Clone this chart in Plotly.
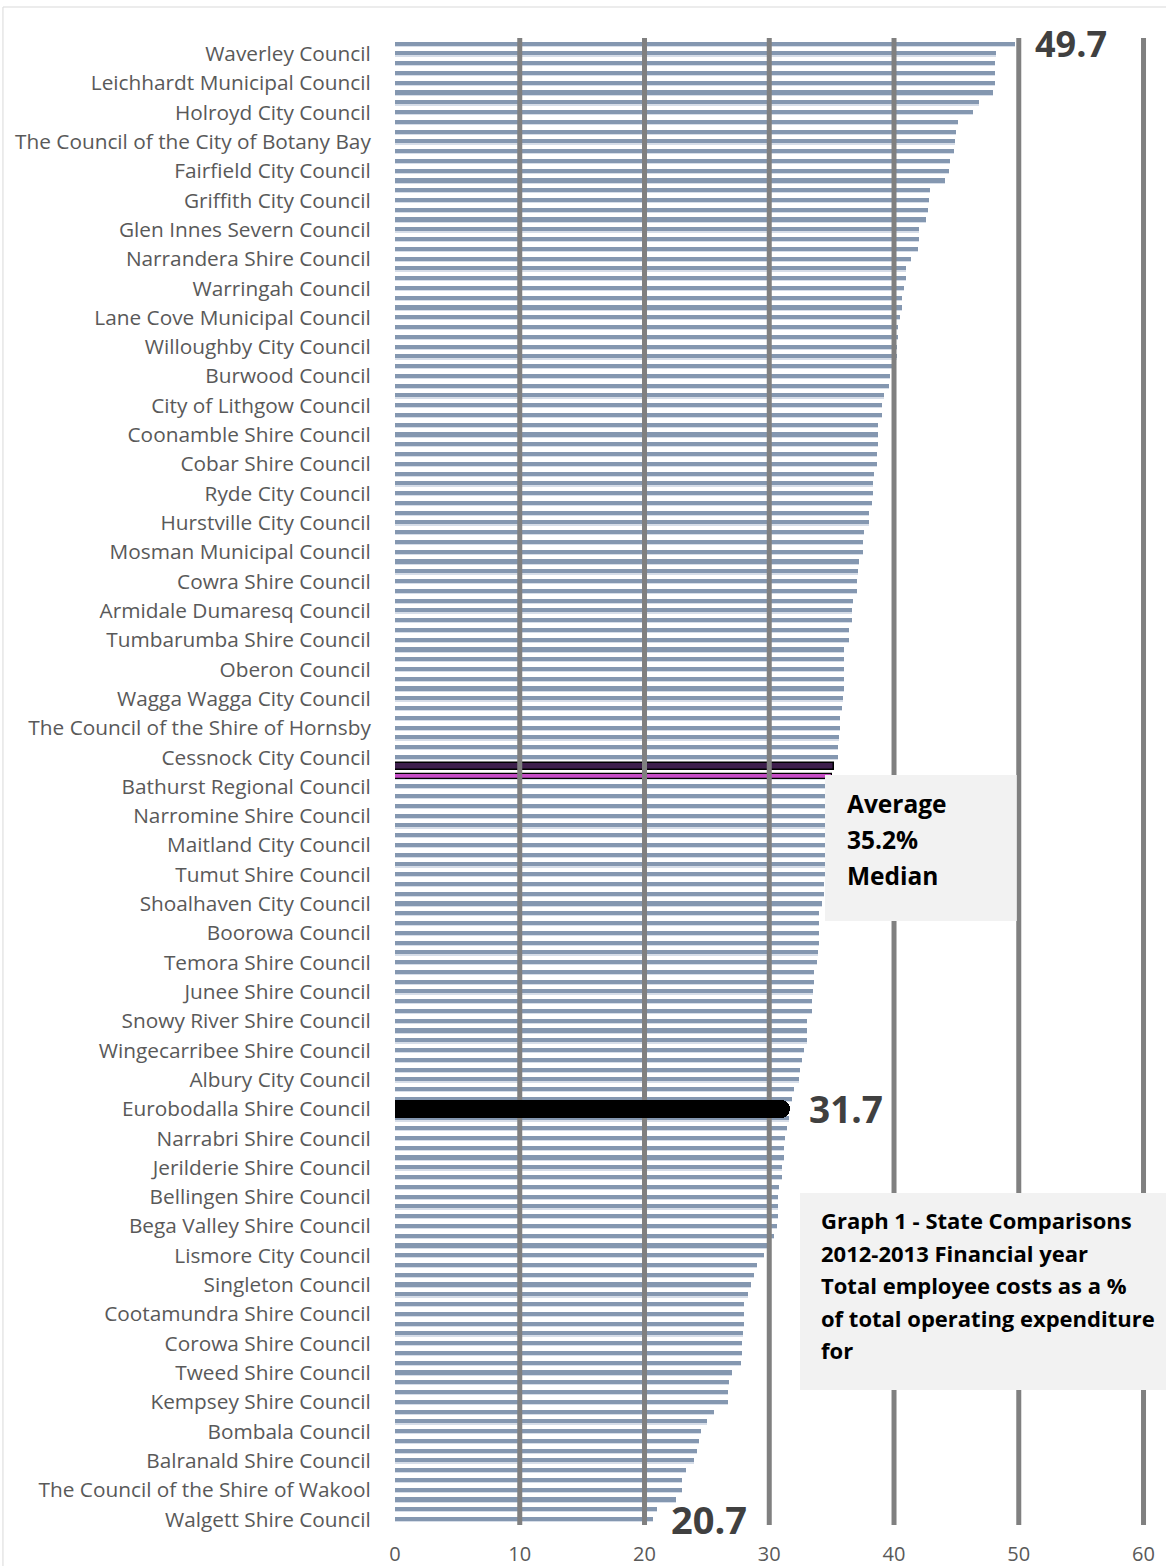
import plotly.graph_objects as go

# ---------------- data (top of chart to bottom) ----------------
employee_cost_pct = [
    49.7, 48.2, 48.1, 48.1, 48.1, 47.9, 46.8, 46.3, 45.1, 45.0,
    44.9, 44.8, 44.5, 44.4, 44.1, 42.9, 42.8, 42.7, 42.6, 42.0,
    42.0, 41.9, 41.4, 41.0, 41.0, 40.8, 40.6, 40.6, 40.5, 40.3,
    40.3, 40.2, 40.2, 39.8, 39.7, 39.6, 39.2, 39.0, 39.0, 38.7,
    38.7, 38.7, 38.6, 38.6, 38.4, 38.3, 38.3, 38.2, 38.0, 38.0,
    37.6, 37.5, 37.5, 37.2, 37.1, 37.0, 37.0, 36.7, 36.6, 36.6,
    36.4, 36.4, 36.0, 36.0, 36.0, 36.0, 36.0, 35.9, 35.8, 35.7,
    35.7, 35.6, 35.5, 35.5, 35.2, 35.0, 35.0, 34.9, 34.9, 34.8,
    34.8, 34.7, 34.7, 34.6, 34.6, 34.5, 34.4, 34.4, 34.2, 34.0,
    34.0, 34.0, 34.0, 33.9, 33.8, 33.6, 33.6, 33.5, 33.4, 33.4,
    33.0, 33.0, 33.0, 32.8, 32.6, 32.5, 32.4, 32.0, 31.8, 31.7,
    31.6, 31.4, 31.3, 31.2, 31.2, 31.0, 31.0, 30.8, 30.7, 30.7,
    30.7, 30.6, 30.4, 30.0, 29.6, 29.0, 28.8, 28.5, 28.3, 28.0,
    28.0, 28.0, 27.9, 27.8, 27.8, 27.7, 27.0, 26.8, 26.7, 26.7,
    25.6, 25.0, 24.5, 24.4, 24.2, 24.0, 23.3, 23.0, 23.0, 22.5,
    21.0, 20.7,
]

# every third category carries a visible label (row 1, 4, 7, ... from the top)
council_labels = [
    "Waverley Council", "Leichhardt Municipal Council", "Holroyd City Council",
    "The Council of the City of Botany Bay", "Fairfield City Council",
    "Griffith City Council", "Glen Innes Severn Council", "Narrandera Shire Council",
    "Warringah Council", "Lane Cove Municipal Council", "Willoughby City Council",
    "Burwood Council", "City of Lithgow Council", "Coonamble Shire Council",
    "Cobar Shire Council", "Ryde City Council", "Hurstville City Council",
    "Mosman Municipal Council", "Cowra Shire Council", "Armidale Dumaresq Council",
    "Tumbarumba Shire Council", "Oberon Council", "Wagga Wagga City Council",
    "The Council of the Shire of Hornsby", "Cessnock City Council",
    "Bathurst Regional Council", "Narromine Shire Council", "Maitland City Council",
    "Tumut Shire Council", "Shoalhaven City Council", "Boorowa Council",
    "Temora Shire Council", "Junee Shire Council", "Snowy River Shire Council",
    "Wingecarribee Shire Council", "Albury City Council", "Eurobodalla Shire Council",
    "Narrabri Shire Council", "Jerilderie Shire Council", "Bellingen Shire Council",
    "Bega Valley Shire Council", "Lismore City Council", "Singleton Council",
    "Cootamundra Shire Council", "Corowa Shire Council", "Tweed Shire Council",
    "Kempsey Shire Council", "Bombala Council", "Balranald Shire Council",
    "The Council of the Shire of Wakool", "Walgett Shire Council",
]
label_rows = list(range(1, 152, 3))          # rows (from top) that carry a label

average_row = 74
median_row = 75
highlight_row = 109                           # Eurobodalla
average_pct = 35.2
grid_ticks = [0, 10, 20, 30, 40, 50, 60]

title_lines = [
    "Graph 1 - State Comparisons",
    "2012-2013 Financial year",
    "Total employee costs as a %",
    "of total operating expenditure",
    "for",
]

# ---------------- layout geometry ----------------
FIG_W, FIG_H = 1166, 1566
N = len(employee_cost_pct)
pos = [N - 1 - k for k in range(N)]          # numeric y position, bottom = 0
X_MAX = 61.0
Y_MIN, Y_MAX = -0.58, N - 1 + 0.61
ML, MT = 394.5, 38
PW = X_MAX * 12.49
PH = 1525 - MT
MR = FIG_W - ML - PW
MB = FIG_H - MT - PH


def px(xp):
    return (xp - ML) / PW


def py(yp):
    return 1 - (yp - MT) / PH


BLUE = "#8497B0"
colors, widths, line_w, line_c = [], [], [], []
for k in range(N):
    if k == average_row:
        colors.append("#3E1F4C"); widths.append(0.72); line_w.append(1.5); line_c.append("#000000")
    elif k == median_row:
        colors.append("#C64DC6"); widths.append(0.55); line_w.append(1.2); line_c.append("#000000")
    else:
        colors.append(BLUE); widths.append(0.42); line_w.append(0); line_c.append(BLUE)
offsets = [-w / 2 + 0.03 for w in widths]

fig = go.Figure()

# light lower edge of each bar
fig.add_trace(go.Bar(
    x=employee_cost_pct, y=pos, orientation="h",
    width=0.5, offset=-0.3,
    marker=dict(color="#D6DDE8", line=dict(width=0)),
    hoverinfo="skip", zorder=0, showlegend=False,
))
# main bars
fig.add_trace(go.Bar(
    x=employee_cost_pct, y=pos, orientation="h",
    width=widths, offset=offsets,
    marker=dict(color=colors, line=dict(width=line_w, color=line_c)),
    zorder=0, showlegend=False,
))

# vertical grid lines drawn over the blue bars
gx, gy = [], []
for t in grid_ticks[1:]:
    gx += [t, t, None]
    gy += [Y_MIN, Y_MAX, None]
fig.add_trace(go.Scatter(
    x=gx, y=gy, mode="lines", line=dict(color="#808080", width=5),
    hoverinfo="skip", zorder=1, showlegend=False,
))

# highlighted council
fig.add_trace(go.Bar(
    x=[employee_cost_pct[highlight_row]], y=[pos[highlight_row]], orientation="h",
    width=1.9, marker=dict(color="#000000", cornerradius="50%", line=dict(width=0)),
    zorder=2, showlegend=False,
))

annotations = []
for row, xs, size in [(0, 18, 36), (highlight_row, 17, 37), (N - 1, 16, 38)]:
    annotations.append(dict(
        x=employee_cost_pct[row], y=pos[row], xref="x", yref="y",
        text=f"<b>{employee_cost_pct[row]:.1f}</b>", showarrow=False,
        xanchor="left", yanchor="middle", xshift=xs,
        font=dict(family="Open Sans", size=size, color="#404040"),
    ))

shapes = [
    dict(type="rect", xref="paper", yref="paper", layer="above",
         x0=px(825), x1=px(1017), y0=py(921), y1=py(775),
         fillcolor="#F2F2F2", line=dict(width=0)),
    dict(type="rect", xref="paper", yref="paper", layer="above",
         x0=px(800), x1=px(1170), y0=py(1390), y1=py(1193),
         fillcolor="#F2F2F2", line=dict(width=0)),
    dict(type="rect", xref="paper", yref="paper", layer="above",
         x0=px(2), x1=px(1175), y0=py(1575), y1=py(7),
         fillcolor="rgba(0,0,0,0)", line=dict(width=1, color="#D9D9D9")),
]

box_lines = ["Average", f"{average_pct:.1f}%", "Median"]
for i, t in enumerate(box_lines):
    annotations.append(dict(
        x=px(845), y=py(803 + 36 * i), xref="paper", yref="paper",
        text=f"<b>{t}</b>", showarrow=False, xanchor="left", yanchor="middle",
        font=dict(family="Open Sans", size=24.5, color="#000000"),
    ))
for i, t in enumerate(title_lines):
    annotations.append(dict(
        x=px(819), y=py(1220 + 32.5 * i), xref="paper", yref="paper",
        text=f"<b>{t}</b>", showarrow=False, xanchor="left", yanchor="middle",
        font=dict(family="Open Sans", size=22, color="#000000"),
    ))

fig.update_layout(
    width=FIG_W, height=FIG_H,
    margin=dict(l=ML, r=MR, t=MT, b=MB, autoexpand=False),
    paper_bgcolor="#FFFFFF", plot_bgcolor="#FFFFFF",
    barmode="overlay", bargap=0,
    showlegend=False,
    shapes=shapes, annotations=annotations,
    xaxis=dict(
        range=[0, X_MAX], tickvals=grid_ticks, ticktext=[str(t) for t in grid_ticks],
        showgrid=False, zeroline=False, showline=False,
        tickfont=dict(family="Open Sans", size=20, color="#595959"),
        ticks="", ticklabelstandoff=15, fixedrange=True,
    ),
    yaxis=dict(
        range=[Y_MIN, Y_MAX],
        tickvals=[pos[r] for r in label_rows], ticktext=council_labels,
        showgrid=False, zeroline=False,
        showline=True, linecolor="#D9D9D9", linewidth=1,
        tickfont=dict(family="Open Sans", size=20.8, color="#595959"),
        ticks="", ticklabelstandoff=19, fixedrange=True,
    ),
)

fig.write_html("out.html")
